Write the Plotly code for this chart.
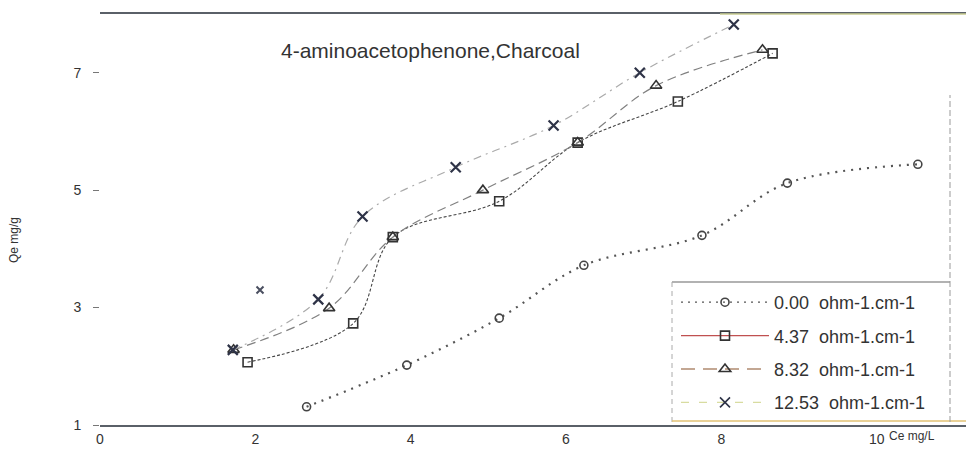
import plotly.graph_objects as go

# Equilibrium concentration Ce (mg/L) and uptake Qe (mg/g) per conductivity level
series_names = ["0.00  ohm-1.cm-1", "4.37  ohm-1.cm-1", "8.32  ohm-1.cm-1", "12.53  ohm-1.cm-1"]

ce_000 = [2.66, 3.95, 5.14, 6.23, 7.75, 8.85, 10.53]
qe_000 = [1.31, 2.02, 2.82, 3.72, 4.23, 5.12, 5.44]

ce_437 = [1.90, 3.26, 3.77, 5.14, 6.15, 7.44, 8.66]
qe_437 = [2.07, 2.73, 4.20, 4.81, 5.81, 6.51, 7.33]

ce_832 = [1.72, 2.95, 3.77, 4.93, 6.15, 7.16, 8.53]
qe_832 = [2.28, 2.99, 4.20, 5.00, 5.81, 6.78, 7.39]

ce_1253 = [1.71, 2.81, 3.38, 4.58, 5.84, 6.95, 8.16]
qe_1253 = [2.28, 3.14, 4.55, 5.39, 6.10, 7.00, 7.82]

# lone reading plotted without a connecting line
ce_extra = [2.06]
qe_extra = [3.30]

x_ticks = [0, 2, 4, 6, 8, 10]
y_ticks = [1, 3, 5, 7]

FONT = "Liberation Sans, Arial, sans-serif"

styles = [
    dict(symbol="circle-open", size=8, line=dict(color="#555", width=2.2, dash="2px,6px"),
         leg_color="#555", leg_dash="2px,5px"),
    dict(symbol="square-open", size=9, line=dict(color="#444", width=1.1, dash="3px,2px"),
         leg_color="#c05050", leg_dash="solid"),
    dict(symbol="triangle-up-open", size=10, line=dict(color="#808080", width=1.2, dash="9px,5px"),
         leg_color="#b08a70", leg_dash="14px,8px"),
    dict(symbol="x-thin-open", size=10, line=dict(color="#aaa", width=1.2, dash="8px,5px,2px,5px"),
         leg_color="#d8dca0", leg_dash="8px,10px"),
]

data = [(ce_000, qe_000), (ce_437, qe_437), (ce_832, qe_832), (ce_1253, qe_1253)]
marker_colors = ["#444", "#333", "#333", "#2e3347"]

fig = go.Figure()

for (xs, ys), st, mc in zip(data, styles, marker_colors):
    fig.add_trace(go.Scatter(
        x=xs, y=ys, mode="lines+markers", showlegend=False,
        line=dict(color=st["line"]["color"], width=st["line"]["width"],
                  dash=st["line"]["dash"], shape="spline", smoothing=1.0),
        marker=dict(symbol=st["symbol"], size=st["size"], color=mc,
                    line=dict(color=mc, width=1.6 if st["symbol"] != "x-thin-open" else 2.2)),
    ))

fig.add_trace(go.Scatter(
    x=ce_extra, y=qe_extra, mode="markers", showlegend=False,
    marker=dict(symbol="x-thin-open", size=7, color="#4a4f60", line=dict(color="#4a4f60", width=2)),
))

# legend entries
for i, (name, st, mc) in enumerate(zip(series_names, styles, marker_colors)):
    fig.add_trace(go.Scatter(
        x=[None], y=[None], mode="lines+markers", name=name, legendgroup=f"g{i}",
        line=dict(color=st["leg_color"], width=1.3, dash=st["leg_dash"]),
        marker=dict(symbol=st["symbol"], size=st["size"], color=mc,
                    line=dict(color=mc, width=1.6)),
    ))

# plot area spans x pixels 100..966, y pixels 14..425
def px_x(p):
    return (p - 100) / 866.0

def px_y(p):
    return (425 - p) / 411.0

fig.update_layout(
    width=966, height=464,
    margin=dict(l=100, r=0, t=14, b=39),
    paper_bgcolor="white", plot_bgcolor="white",
    font=dict(family=FONT, size=14, color="#333"),
    showlegend=True,
    legend=dict(
        x=px_x(676), y=px_y(284), xanchor="left", yanchor="top",
        bgcolor="rgba(255,255,255,0)", borderwidth=0,
        font=dict(family=FONT, size=18, color="#333"),
        itemwidth=88, tracegroupgap=7, traceorder="grouped",
    ),
    xaxis=dict(
        range=[0, 11.15], tickvals=x_ticks, ticktext=[str(v) for v in x_ticks],
        showgrid=False, zeroline=False, showline=True, mirror=True,
        linecolor="#5a6068", linewidth=1.5, ticks="", tickfont=dict(size=14, color="#333"),
    ),
    yaxis=dict(
        range=[1, 8], tickvals=y_ticks, ticktext=[str(v) for v in y_ticks],
        showgrid=False, zeroline=False, showline=False,
        ticks="outside", ticklen=6, tickcolor="#777", ticklabelstandoff=9,
        tickfont=dict(size=14, color="#333"),
    ),
    annotations=[
        dict(text="4-aminoacetophenone,Charcoal", xref="paper", yref="paper",
             x=px_x(430), y=px_y(50), xanchor="center", yanchor="middle", showarrow=False,
             font=dict(family=FONT, size=21, color="#333")),
        dict(text="Ce mg/L", xref="x", yref="paper", x=10, y=0, xanchor="left",
             yanchor="top", xshift=10, yshift=-2, showarrow=False,
             font=dict(family=FONT, size=12, color="#333")),
        dict(text="Qe mg/g", xref="paper", yref="paper", x=px_x(14), y=px_y(240),
             xanchor="center", yanchor="middle", textangle=-90, showarrow=False,
             font=dict(family=FONT, size=12, color="#333")),
    ],
    shapes=[
        # legend frame: top rule
        dict(type="line", xref="paper", yref="paper", x0=px_x(672), x1=px_x(950),
             y0=px_y(282), y1=px_y(282), line=dict(color="#666", width=1.2)),
        # legend frame: left edge
        dict(type="line", xref="paper", yref="paper", x0=px_x(672), x1=px_x(672),
             y0=px_y(282), y1=px_y(422), line=dict(color="#aaa", width=1, dash="5px,4px")),
        # legend frame: bottom rule, tinted
        dict(type="line", xref="paper", yref="paper", x0=px_x(672), x1=1.0,
             y0=px_y(421), y1=px_y(421), line=dict(color="#e2c274", width=1.5)),
        # right-hand frame edge, partial and dashed
        dict(type="line", xref="paper", yref="paper", x0=px_x(950), x1=px_x(950),
             y0=px_y(422), y1=px_y(95), line=dict(color="#999", width=1, dash="6px,3px")),
        # tinted tail of the top rule
        dict(type="line", xref="paper", yref="paper", x0=px_x(720), x1=1.0, y0=1.0, y1=1.0,
             line=dict(color="#c8cc90", width=1.5)),
    ],
)

fig.write_html("out.html")
